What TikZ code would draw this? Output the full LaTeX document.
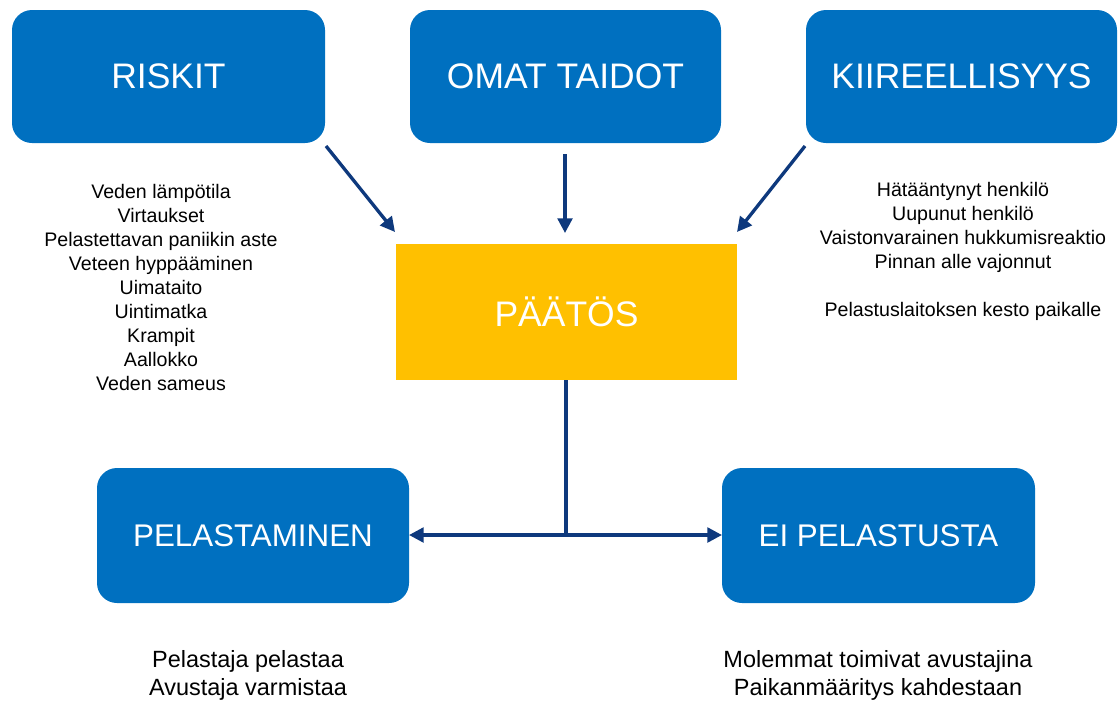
\documentclass[tikz,border=0pt]{standalone}
\usepackage{fontspec}
\setmainfont{Liberation Sans}
\usetikzlibrary{arrows.meta}
\definecolor{boxblue}{RGB}{0,112,192}
\definecolor{boxyellow}{RGB}{255,192,0}
\definecolor{arrowblue}{RGB}{14,57,125}
\tikzset{
  bluebox/.style={fill=boxblue, rounded corners=15pt},
  yellowbox/.style={fill=boxyellow},
  title/.style={text=white, font=\fontsize{26.6}{30}\selectfont},
  smalltitle/.style={text=white, font=\fontsize{23.5}{28}\selectfont},
  conn/.style={draw=arrowblue, line width=2.5pt, -{Triangle[length=11pt,width=11pt]}},
  plain/.style={draw=arrowblue, line width=2.5pt},
  listtext/.style={align=center, font=\fontsize{14.7}{18}\selectfont, inner sep=0pt},
  bottomtext/.style={align=center, font=\fontsize{17.6}{21}\selectfont, inner sep=0pt},
}
\begin{document}
\begin{tikzpicture}[x=0.75pt,y=-0.75pt]
\useasboundingbox (0,0) rectangle (1119,700);
\path[bluebox] (12,10) rectangle (325,143);
\node[title] (riskit) at (168.5,76.5) {RISKIT};
\path[bluebox] (410,10) rectangle (721,143);
\node[title] (taidot) at (565.5,76.5) {OMAT TAIDOT};
\path[bluebox] (806,10) rectangle (1117,143);
\node[title] (kiire) at (961.5,76.5) {KIIREELLISYYS};
\path[yellowbox] (396,244) rectangle (737,380);
\node[title] (paatos) at (566.5,312) {PÄÄTÖS};
\path[bluebox] (97,468) rectangle (409,603);
\node[smalltitle] (pelast) at (253,536) {PELASTAMINEN};
\path[bluebox] (722,468) rectangle (1035,603);
\node[smalltitle] (ei) at (878.5,536) {EI PELASTUSTA};

\coordinate (r1) at (326,146);
\coordinate (r2) at (395,232);
\coordinate (t1) at (565,154);
\coordinate (t2) at (565,233);
\coordinate (k1) at (805,146);
\coordinate (k2) at (737,232);
\coordinate (p1) at (566,380);
\coordinate (j) at (566,535);
\coordinate (pl) at (409,535);
\coordinate (er) at (722,535);
\draw[conn] (r1) -- (r2);
\draw[conn] (t1) -- (t2);
\draw[conn] (k1) -- (k2);
\draw[plain] (p1) -- (j);
\draw[conn] (j) -- (pl);
\draw[conn] (j) -- (er);

\node[listtext] (leftlist) at (161,287) {Veden lämpötila\\Virtaukset\\Pelastettavan paniikin aste\\Veteen hyppääminen\\Uimataito\\Uintimatka\\Krampit\\Aallokko\\Veden sameus};
\node[listtext] (rightlist) at (963,251) {Hätääntynyt henkilö\\Uupunut henkilö\\Vaistonvarainen hukkumisreaktio\\Pinnan alle vajonnut\\[18pt]Pelastuslaitoksen kesto paikalle};
\node[bottomtext] (leftbottom) at (248,675) {Pelastaja pelastaa\\Avustaja varmistaa};
\node[bottomtext] (rightbottom) at (878,675) {Molemmat toimivat avustajina\\Paikanmääritys kahdestaan};
\end{tikzpicture}
\end{document}
